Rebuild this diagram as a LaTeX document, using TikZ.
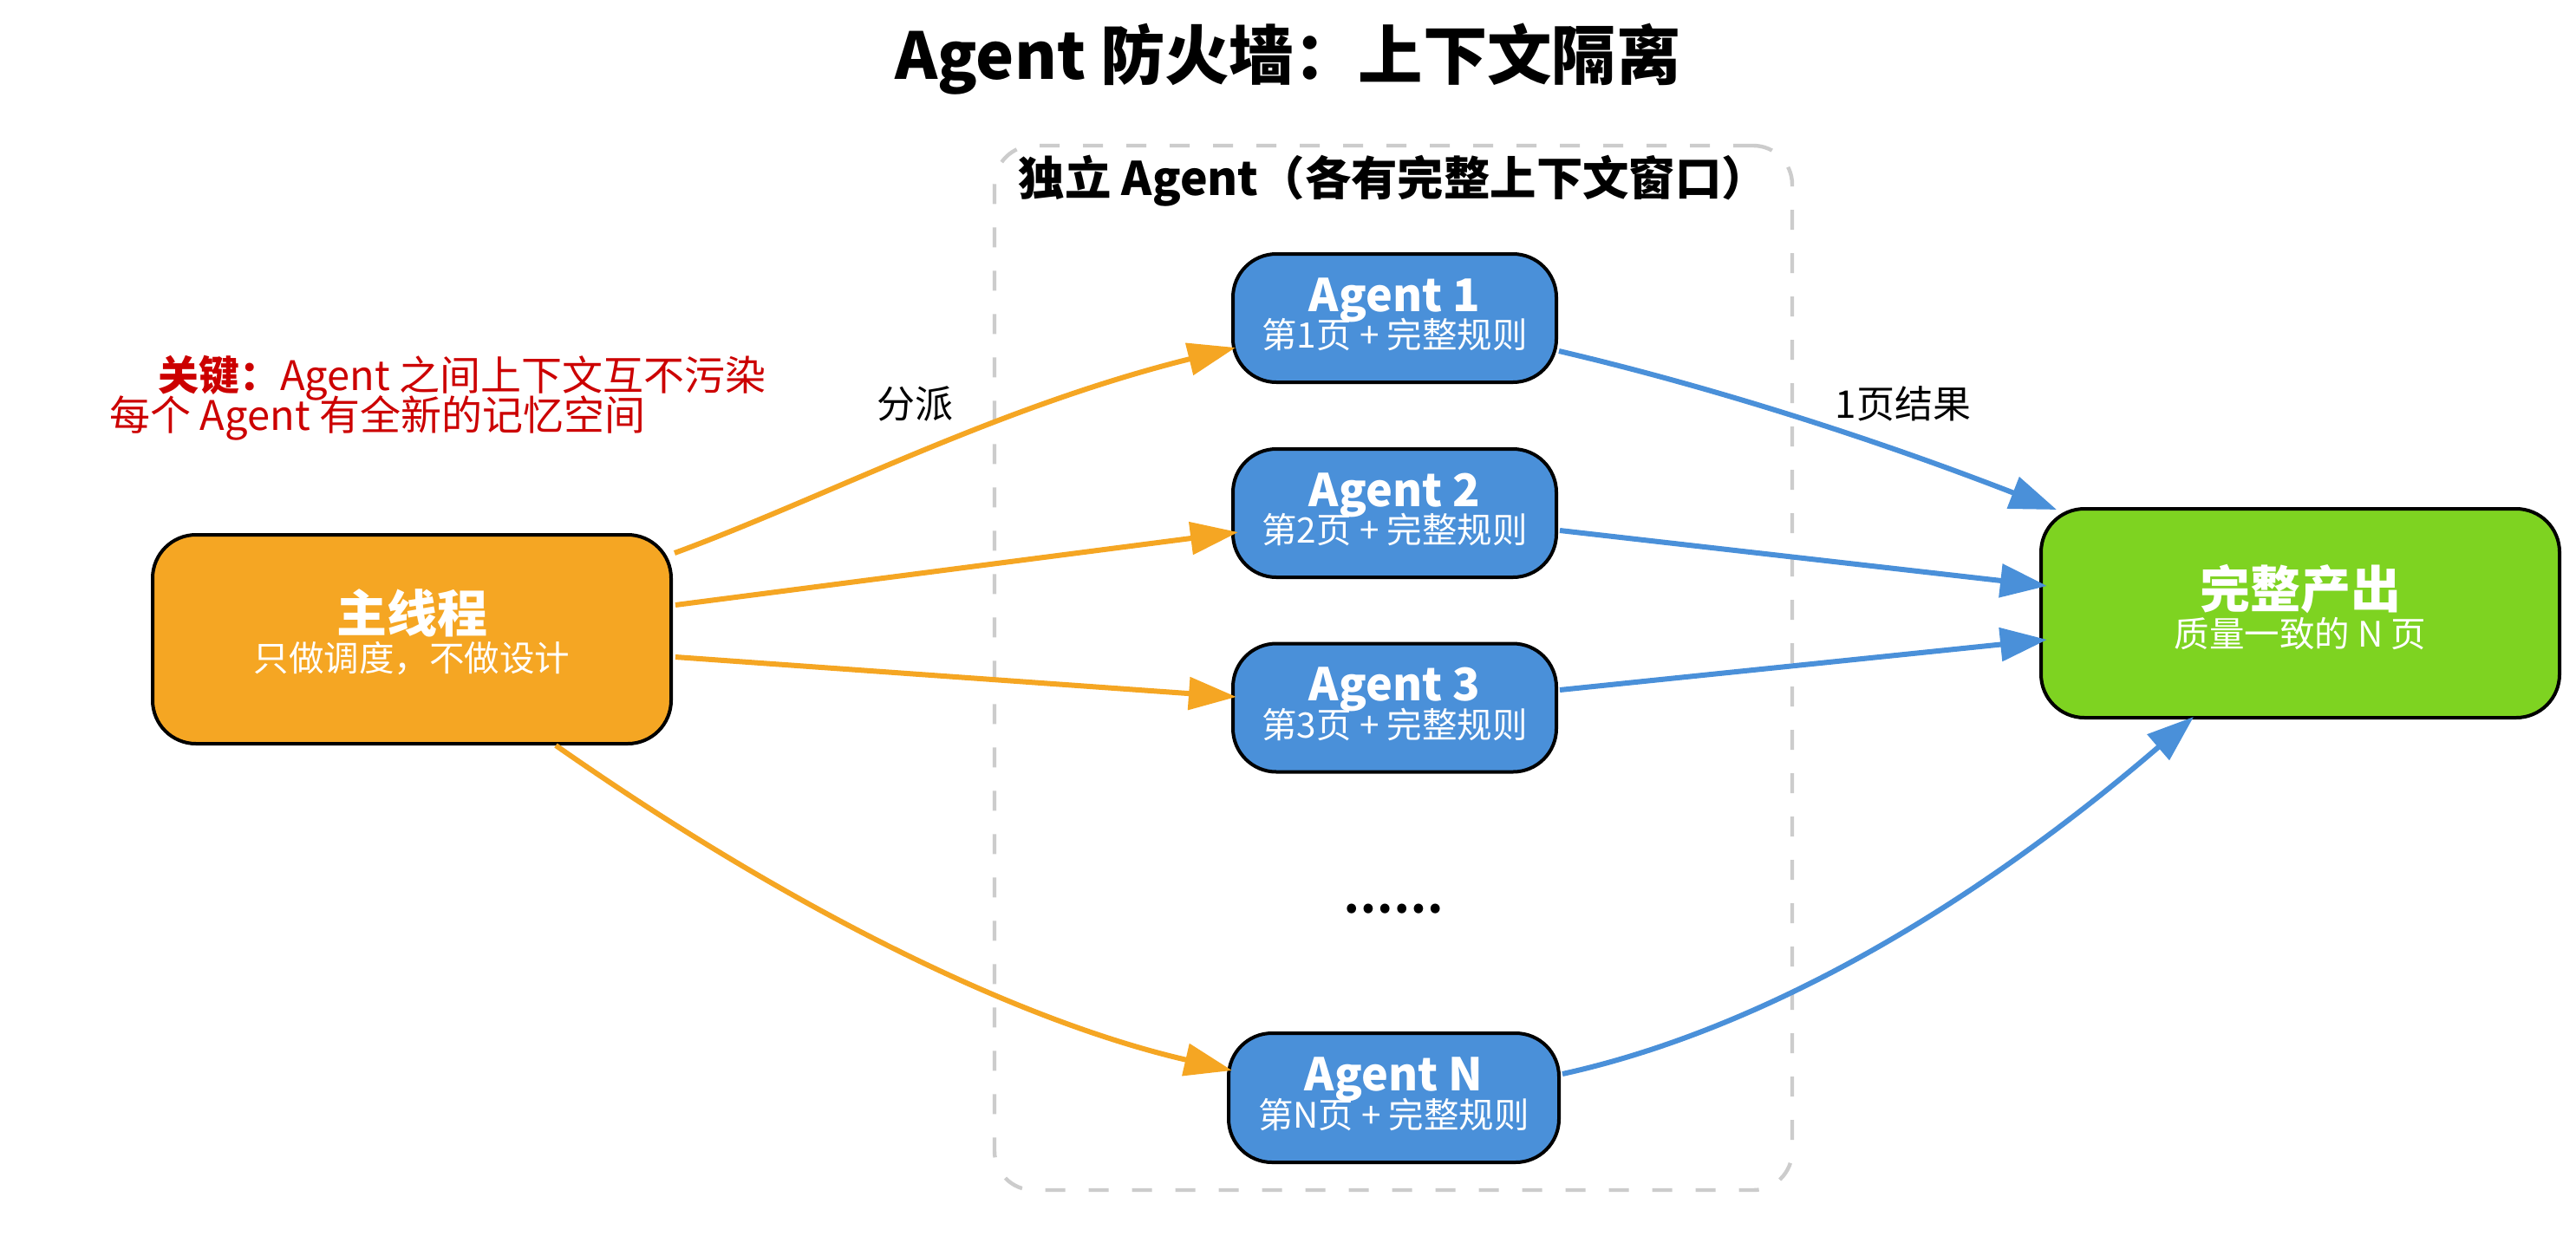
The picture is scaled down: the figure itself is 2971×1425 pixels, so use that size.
\documentclass[tikz,border=0pt]{standalone}
\usepackage{fontspec}
\setmainfont{Noto Sans CJK SC}
\usetikzlibrary{arrows.meta,calc}
\definecolor{orangeC}{HTML}{F5A623}
\definecolor{blueC}{HTML}{4A90D9}
\definecolor{greenC}{HTML}{7ED321}
\definecolor{redC}{HTML}{CC0000}
\definecolor{dashC}{HTML}{CCCCCC}
\newcommand\myfs[1]{\fontsize{#1}{#1}\selectfont}
\tikzset{
  box/.style={draw=black, line width=2pt, rounded corners=25pt, inner sep=0pt},
  agentbox/.style={box, fill=blueC, minimum width=186.5pt, minimum height=74pt},
  bigbox/.style={box, minimum width=299pt, minimum height=120.5pt},
  groupbox/.style={draw=dashC, line width=2.2pt, dash pattern=on 11.5pt off 13.5pt, rounded corners=22.5pt, minimum width=460pt, minimum height=602.5pt, inner sep=0pt},
  btitle/.style={inner sep=0pt, anchor=base, text=white, font=\myfs{29pt}\bfseries},
  atitle/.style={btitle, font=\myfs{26pt}\bfseries},
  bsub/.style={inner sep=0pt, anchor=base, text=white, font=\myfs{20.25pt}},
  orangearrow/.style={draw=orangeC, line width=3pt, -{Triangle[length=27.5pt,width=18.5pt]}},
  bluearrow/.style={draw=blueC, line width=3pt, -{Triangle[length=27pt,width=19pt]}},
  elabel/.style={inner sep=0pt, anchor=base, font=\myfs{22pt}},
  redtext/.style={inner sep=0pt, anchor=base west, text=redC, font=\myfs{23.5pt}},
}
\begin{document}
\begin{tikzpicture}[x=0.5pt,y=-0.5pt]
\useasboundingbox[fill=white] (0,0) rectangle (2971,1425);

% title
\node[inner sep=0pt, anchor=base, font=\myfs{37.2pt}\bfseries] (title) at (1485.5,91) {Agent 防火墙：上下文隔离};

% container
\node[groupbox] (grp) at (1607,770.5) {};
\node[inner sep=0pt, anchor=base, font=\myfs{26.7pt}\bfseries] (grpT) at (1607,225) {独立 Agent（各有完整上下文窗口）};

% main box
\node[bigbox, fill=orangeC] (main) at (475,737.5) {};
\node[btitle] (mainT) at ($(main.center)+(0,-8)$) {主线程};
\node[bsub] (mainS) at ($(main.center)+(0,36.5)$) {只做调度，不做设计};

% output box
\node[bigbox, fill=greenC] (out) at (2653,707.5) {};
\node[btitle] (outT) at ($(out.center)+(0,-6)$) {完整产出};
\node[bsub] (outS) at ($(out.center)+(0,38.5)$) {质量一致的 N 页};

% agents
\node[agentbox] (a1) at (1608.5,367) {};
\node[atitle] (a1T) at ($(a1.center)+(0,-8)$) {Agent 1};
\node[bsub] (a1S) at ($(a1.center)+(0,34.5)$) {第1页 + 完整规则};

\node[agentbox] (a2) at (1608.5,592) {};
\node[atitle] (a2T) at ($(a2.center)+(0,-8)$) {Agent 2};
\node[bsub] (a2S) at ($(a2.center)+(0,34.5)$) {第2页 + 完整规则};

\node[agentbox] (a3) at (1608.5,816.5) {};
\node[atitle] (a3T) at ($(a3.center)+(0,-8)$) {Agent 3};
\node[bsub] (a3S) at ($(a3.center)+(0,34.5)$) {第3页 + 完整规则};

\node[agentbox, minimum width=190.5pt, minimum height=74.5pt] (aN) at (1607.5,1266.5) {};
\node[atitle] (aNT) at ($(aN.center)+(0,-8)$) {Agent N};
\node[bsub] (aNS) at ($(aN.center)+(0,34.5)$) {第N页 + 完整规则};

\node[inner sep=0pt, font=\myfs{25.4pt}\bfseries] (dots) at (1607,1049) {……};

% key note
\node[redtext] (key1) at (182,450) {{\bfseries 关键：}Agent 之间上下文互不污染};
\node[redtext] (key2) at (126,496) {每个 Agent 有全新的记忆空间};

% orange connectors
\draw[orangearrow] ($(main.east)+(2,-99.5)$) .. controls +(174,-64) and +(-277,69) .. ($(a1.west)+(5,34)$);
\draw[orangearrow] ($(main.east)+(3,-39.5)$) -- ($(a2.west)+(8,22)$);
\draw[orangearrow] ($(main.east)+(3,20.5)$) -- ($(a3.west)+(6,-12.5)$);
\draw[orangearrow] ($(main.south)+(166,0)$) .. controls +(279,195) and +(-242,-56) .. ($(aN.west)+(6,-31.5)$);

% blue connectors
\draw[bluearrow] ($(a1.east)+(1,38)$) .. controls +(175,41) and +(-211,-82) .. ($(out.north west)+(20,3)$);
\draw[bluearrow] ($(a2.east)+(2,20)$) -- ($(out.west)+(9,-31.5)$);
\draw[bluearrow] ($(a3.east)+(2,-20.5)$) -- ($(out.west)+(9,30.5)$);
\draw[bluearrow] ($(aN.east)+(2,-27.5)$) .. controls +(223,-49) and +(-264,227) .. ($(out.south)+(-123,-3)$);

% edge labels
\node[elabel] (lab1) at (1055,482) {分派};
\node[elabel] (lab2) at (2195,482) {1页结果};
\end{tikzpicture}
\end{document}
